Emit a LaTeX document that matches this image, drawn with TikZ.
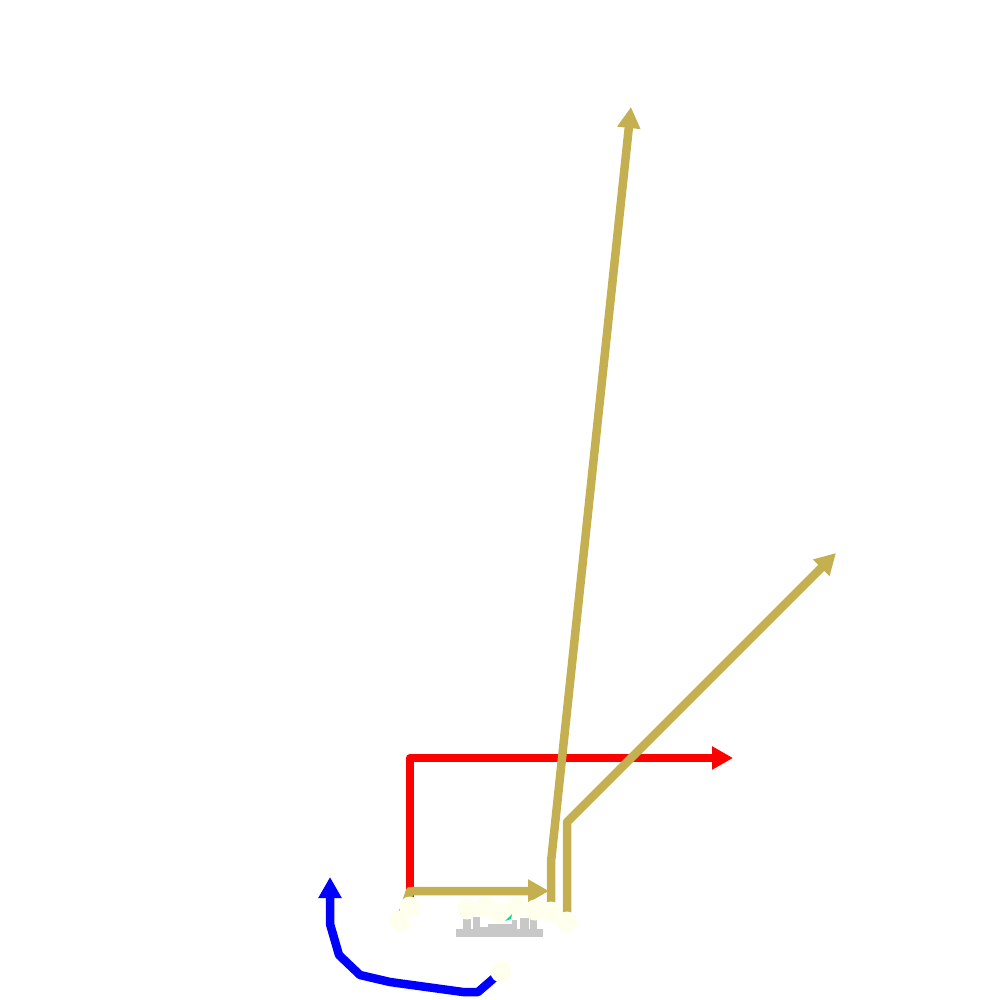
\documentclass[tikz,border=0pt]{standalone}
\usetikzlibrary{arrows.meta}
\definecolor{gold}{HTML}{C4B050}
\definecolor{ivory}{HTML}{FFFFEE}
\definecolor{blk}{HTML}{C8C8C8}
\definecolor{grn}{HTML}{00DD88}
\tikzset{
  jt/.style={circle,fill=ivory,draw=none,minimum size=21pt,inner sep=0pt},
  link/.style={line width=8.5pt,line join=round},
  tip/.style={-{Triangle[length=21pt,width=22pt]}},
  blockpart/.style={fill=blk,draw=none}
}
\begin{document}
\begin{tikzpicture}[x=1pt,y=-1pt]
\useasboundingbox (0,0) rectangle (1000,1000);
% gray blocks
\fill[blockpart] (456,929) rectangle (543,937);
\fill[blockpart] (463,917) rectangle (471,930);
\fill[blockpart] (473,917) rectangle (480,930);
\fill[blockpart] (480,927) rectangle (488,930);
\fill[blockpart] (488,924) rectangle (512,930);
\fill[blockpart] (512,920) rectangle (517,930);
\fill[blockpart] (520,918) rectangle (529,930);
\fill[blockpart] (530,918) rectangle (537,930);
% coordinates
\coordinate (rc) at (410,758);
\coordinate (rt) at (733,758);
\coordinate (g1c) at (410,891);
\coordinate (g1t) at (549,891);
\coordinate (g2c) at (551,862);
\coordinate (g2t) at (631,107);
\coordinate (g3c) at (567,822);
\coordinate (g3t) at (836,553);
\coordinate (b1) at (478,992);
\coordinate (b2) at (463,992);
\coordinate (b3) at (390,982);
\coordinate (b4) at (360,975);
\coordinate (b5) at (339,955);
\coordinate (b6) at (330,924);
\coordinate (bt) at (330,877);
% joints (positions)
\path (400,921) coordinate (pa) (410,907) coordinate (pb)
      (467,909) coordinate (pc) (485,907) coordinate (pd)
      (500,913) coordinate (pe) (517,907) coordinate (pf)
      (535,910) coordinate (pg) (551,912) coordinate (ph)
      (567,922) coordinate (pi) (501,972) coordinate (pj);
% connectors
\draw[link,red,tip] (pb) -- (rc) -- (rt);
\draw[link,gold,tip] (pa) -- (g1c) -- (g1t);
\draw[link,gold,tip] (ph) -- (g2c) -- (g2t);
\draw[link,gold,tip] (pi) -- (g3c) -- (g3t);
\draw[link,blue,tip] (pj) -- (b1) -- (b2) -- (b3) -- (b4) -- (b5) -- (b6) -- (bt);
% joints
\node[jt] (na) at (pa) {};
\node[jt] (nb) at (pb) {};
\node[jt] (nc) at (pc) {};
\node[jt] (nd) at (pd) {};
\node[jt] (ne) at (pe) {};
\node[jt] (nf) at (pf) {};
\node[jt] (ng) at (pg) {};
\node[jt] (nh) at (ph) {};
\node[jt] (ni) at (pi) {};
\node[jt] (nj) at (pj) {};
% small green mark
\fill[grn] (505,921) -- (512,914) -- (511,919) -- cycle;
\end{tikzpicture}
\end{document}
